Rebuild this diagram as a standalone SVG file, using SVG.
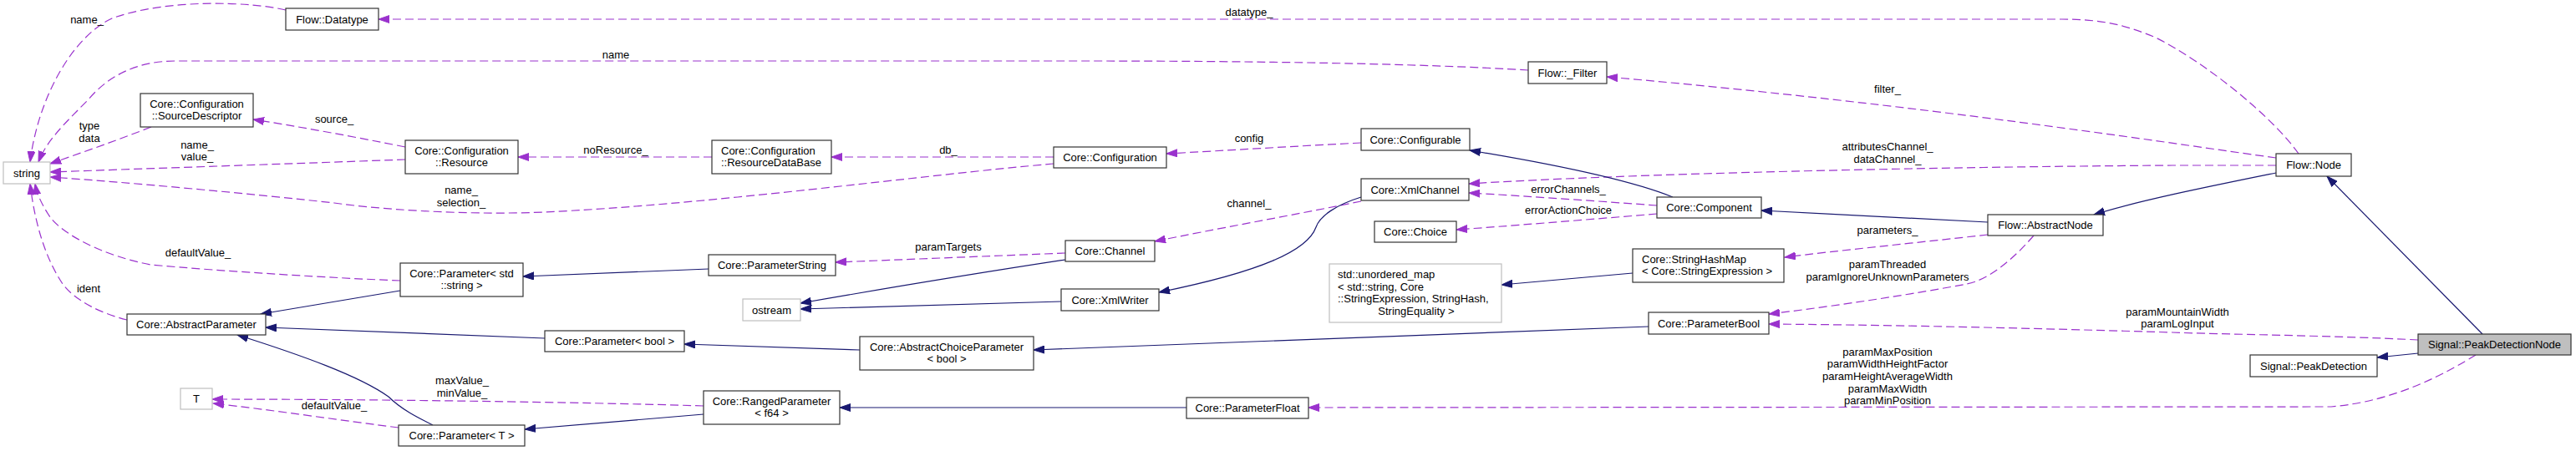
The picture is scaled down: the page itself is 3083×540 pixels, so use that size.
<svg xmlns="http://www.w3.org/2000/svg" width="3083" height="540" viewBox="0 0 3083 540">
<style>
text{font-family:"Liberation Sans",Arial,sans-serif;font-size:13px;fill:#000}
.n{fill:#fff;stroke:#333;stroke-width:1.2}
.g{fill:#fff;stroke:#bfbfbf;stroke-width:1.2}
.c{text-anchor:middle}
.d{fill:none;stroke:#9a32cd;stroke-width:1.2;stroke-dasharray:10,5;marker-end:url(#ad)}
.s{fill:none;stroke:#191970;stroke-width:1.2;marker-end:url(#as)}
</style>
<defs>
<marker id="ad" viewBox="0 0 14 10" markerWidth="14" markerHeight="10" refX="13" refY="5" orient="auto" markerUnits="userSpaceOnUse"><path d="M0,0.5L13,5L0,9.5z" fill="#9a32cd" stroke="#9a32cd"/></marker>
<marker id="as" viewBox="0 0 14 10" markerWidth="14" markerHeight="10" refX="13" refY="5" orient="auto" markerUnits="userSpaceOnUse"><path d="M0,0.5L13,5L0,9.5z" fill="#191970" stroke="#191970"/></marker>
</defs>
<rect width="3083" height="540" fill="#fff"/>
<g id="connectors">
<path class="d" d="M2751,184 C2720,140 2640,75 2580,45 C2540,28 2510,23 2468,23 L453,23"/>
<path class="d" d="M342,12 C300,2 200,-2 134,22 C85,45 45,120 36,194"/>
<path class="d" d="M1829,84 C1700,76 1500,73 1300,73 L210,73 C165,73 130,90 105,120 C75,150 55,170 46,194"/>
<path class="d" d="M2724,189 C2600,172 2300,125 1923,92"/>
<path class="d" d="M2724,198 L2600,198 C2300,200 1950,208 1758,220"/>
<path class="d" d="M1983,246 C1900,240 1800,233 1758,231"/>
<path class="d" d="M1983,256 C1900,263 1800,271 1743,275"/>
<path class="s" d="M2002,236 C1950,215 1850,195 1759,180"/>
<path class="s" d="M2379,266 L2108,252"/>
<path class="s" d="M2724,207 C2650,222 2560,240 2506,257"/>
<path class="s" d="M2971,400 L2785,211"/>
<path class="s" d="M2894,423 L2845,428"/>
<path class="d" d="M2894,407 C2800,402 2650,400 2600,398 C2400,392 2250,389 2117,388"/>
<path class="d" d="M2963,425 C2930,445 2870,480 2790,487 L1566,488"/>
<path class="d" d="M2379,281 C2300,290 2200,300 2136,308"/>
<path class="d" d="M2434,282 C2410,310 2380,335 2354,340 C2290,352 2200,366 2117,376"/>
<path class="s" d="M1954,327 L1797,341"/>
<path class="s" d="M1973,391 L1237,419"/>
<path class="s" d="M1029,419 L819,412"/>
<path class="s" d="M652,405 L318,392"/>
<path class="s" d="M479,348 L312,376"/>
<path class="s" d="M848,322 L626,331"/>
<path class="s" d="M518,509 C500,500 480,490 465,475 C430,450 360,425 284,401"/>
<path class="s" d="M842,496 L628,514"/>
<path class="d" d="M842,486 C750,483 500,478 254,478"/>
<path class="d" d="M477,512 C420,505 320,490 255,483"/>
<path class="s" d="M1420,488 L1005,488"/>
<path class="d" d="M479,336 C400,333 270,325 180,317 C120,305 75,280 60,260 C50,245 44,232 42,220"/>
<path class="d" d="M152,383 C120,375 90,360 75,340 C55,310 42,270 36,220"/>
<path class="d" d="M1261,196 C1100,210 850,245 650,254 C550,258 450,250 400,243 C300,232 150,218 60,212"/>
<path class="d" d="M485,191 C350,196 200,201 60,206"/>
<path class="d" d="M181,152 C140,168 100,182 60,196"/>
<path class="d" d="M485,176 C420,163 360,152 303,143"/>
<path class="d" d="M852,188 L620,188"/>
<path class="d" d="M1261,188 L995,188"/>
<path class="d" d="M1629,171 C1550,175 1470,180 1396,184"/>
<path class="d" d="M1629,241 C1550,257 1450,275 1382,289"/>
<path class="s" d="M1629,236 C1600,245 1580,258 1575,272 C1565,300 1510,325 1387,350"/>
<path class="s" d="M1275,311 C1150,330 1050,347 958,363"/>
<path class="s" d="M1270,361 L958,370"/>
<path class="d" d="M1275,303 L1000,314"/>
<g class="c">
<text x="104" y="28">name_</text>
<text x="107" y="155">type</text><text x="107" y="170">data</text>
<text x="400" y="147">source_</text>
<text x="236" y="178">name_</text><text x="236" y="192">value_</text>
<text x="552" y="232">name_</text><text x="552" y="247">selection_</text>
<text x="237" y="307">defaultValue_</text>
<text x="106" y="350">ident</text>
<text x="553" y="460">maxValue_</text><text x="553" y="475">minValue_</text>
<text x="400" y="490">defaultValue_</text>
<text x="737" y="70">name</text>
<text x="737" y="184">noResource_</text>
<text x="1135" y="184">db_</text>
<text x="1135" y="300">paramTargets</text>
<text x="1495" y="19">datatype_</text>
<text x="1495" y="170">config</text>
<text x="1495" y="248">channel_</text>
<text x="1877" y="231">errorChannels_</text>
<text x="1877" y="256">errorActionChoice</text>
<text x="2259" y="111">filter_</text>
<text x="2259" y="180">attributesChannel_</text><text x="2259" y="195">dataChannel_</text>
<text x="2259" y="280">parameters_</text>
<text x="2259" y="321">paramThreaded</text><text x="2259" y="336">paramIgnoreUnknownParameters</text>
<text x="2606" y="378">paramMountainWidth</text><text x="2606" y="392">paramLogInput</text>
<text x="2259" y="426">paramMaxPosition</text><text x="2259" y="440">paramWidthHeightFactor</text><text x="2259" y="455">paramHeightAverageWidth</text><text x="2259" y="470">paramMaxWidth</text><text x="2259" y="484">paramMinPosition</text>
</g>
</g>
<g id="string"><rect class="g" x="4" y="194" width="56" height="26"/><text class="c" x="32" y="211.5">string</text></g>
<g id="Flow_Datatype"><rect class="n" x="342" y="10" width="111" height="26"/><text class="c" x="397.5" y="27.5">Flow::Datatype</text></g>
<g id="SourceDescriptor"><rect class="n" x="168" y="112" width="135" height="40"/><text class="c" x="235.5" y="128.5">Core::Configuration</text><text class="c" x="235.5" y="143">::SourceDescriptor</text></g>
<g id="Resource"><rect class="n" x="485" y="168" width="135" height="40"/><text class="c" x="552.5" y="184.5">Core::Configuration</text><text class="c" x="552.5" y="199">::Resource</text></g>
<g id="ResourceDataBase"><rect class="n" x="852" y="168" width="143" height="40"/><text x="863" y="184.5">Core::Configuration</text><text x="863" y="199">::ResourceDataBase</text></g>
<g id="Configuration"><rect class="n" x="1261" y="176" width="135" height="25"/><text class="c" x="1328.5" y="193">Core::Configuration</text></g>
<g id="Configurable"><rect class="n" x="1629" y="154" width="130" height="26"/><text class="c" x="1694" y="171.5">Core::Configurable</text></g>
<g id="Filter"><rect class="n" x="1829" y="74" width="94" height="26"/><text class="c" x="1876" y="91.5">Flow::_Filter</text></g>
<g id="XmlChannel"><rect class="n" x="1629" y="214" width="129" height="26"/><text class="c" x="1693.5" y="231.5">Core::XmlChannel</text></g>
<g id="Choice"><rect class="n" x="1645" y="265" width="98" height="25"/><text class="c" x="1694" y="282">Core::Choice</text></g>
<g id="Component"><rect class="n" x="1983" y="236" width="125" height="25"/><text class="c" x="2045.5" y="253">Core::Component</text></g>
<g id="AbstractNode"><rect class="n" x="2379" y="257" width="138" height="25"/><text class="c" x="2448" y="274">Flow::AbstractNode</text></g>
<g id="Flow_Node"><rect class="n" x="2724" y="184" width="90" height="27"/><text class="c" x="2769" y="202">Flow::Node</text></g>
<g id="PeakDetectionNode"><rect x="2894" y="400" width="183" height="25" fill="#bfbfbf" stroke="#333" stroke-width="1.2"/><text class="c" x="2985.5" y="417">Signal::PeakDetectionNode</text></g>
<g id="PeakDetection"><rect class="n" x="2693" y="425" width="152" height="26"/><text class="c" x="2769" y="442.5">Signal::PeakDetection</text></g>
<g id="StringHashMap"><rect class="n" x="1954" y="298" width="181" height="40"/><text x="1965" y="314.5">Core::StringHashMap</text><text x="1965" y="329">&lt; Core::StringExpression &gt;</text></g>
<g id="unordered_map"><rect class="g" x="1591" y="316" width="206" height="70"/><text x="1601" y="332.5">std::unordered_map</text><text x="1601" y="347.5">&lt; std::string, Core</text><text x="1601" y="362">::StringExpression, StringHash,</text><text class="c" x="1695" y="376.5">StringEquality &gt;</text></g>
<g id="ParameterBool"><rect class="n" x="1973" y="374" width="144" height="26"/><text class="c" x="2045" y="391.5">Core::ParameterBool</text></g>
<g id="ParameterFloat"><rect class="n" x="1420" y="476" width="146" height="25"/><text class="c" x="1493" y="493">Core::ParameterFloat</text></g>
<g id="RangedParameter"><rect class="n" x="842" y="468" width="163" height="40"/><text class="c" x="923.5" y="484.5">Core::RangedParameter</text><text class="c" x="923.5" y="499">&lt; f64 &gt;</text></g>
<g id="AbstractChoiceParameter"><rect class="n" x="1029" y="403" width="208" height="40"/><text class="c" x="1133" y="419.5">Core::AbstractChoiceParameter</text><text class="c" x="1133" y="434">&lt; bool &gt;</text></g>
<g id="Parameter_bool"><rect class="n" x="652" y="396" width="167" height="25"/><text class="c" x="735.5" y="413">Core::Parameter&lt; bool &gt;</text></g>
<g id="ParameterString"><rect class="n" x="848" y="305" width="152" height="25"/><text class="c" x="924" y="322">Core::ParameterString</text></g>
<g id="ostream"><rect class="g" x="889" y="358" width="69" height="26"/><text class="c" x="923.5" y="375.5">ostream</text></g>
<g id="Channel"><rect class="n" x="1275" y="288" width="107" height="25"/><text class="c" x="1328.5" y="305">Core::Channel</text></g>
<g id="XmlWriter"><rect class="n" x="1270" y="346" width="117" height="26"/><text class="c" x="1328.5" y="363.5">Core::XmlWriter</text></g>
<g id="Parameter_string"><rect class="n" x="479" y="315" width="147" height="40"/><text class="c" x="552.5" y="331.5">Core::Parameter&lt; std</text><text class="c" x="552.5" y="346">::string &gt;</text></g>
<g id="AbstractParameter"><rect class="n" x="152" y="376" width="166" height="25"/><text class="c" x="235" y="393">Core::AbstractParameter</text></g>
<g id="T"><rect class="g" x="216" y="465" width="38" height="25"/><text class="c" x="235" y="482">T</text></g>
<g id="Parameter_T"><rect class="n" x="477" y="509" width="151" height="25"/><text class="c" x="552.5" y="526">Core::Parameter&lt; T &gt;</text></g>
</svg>
